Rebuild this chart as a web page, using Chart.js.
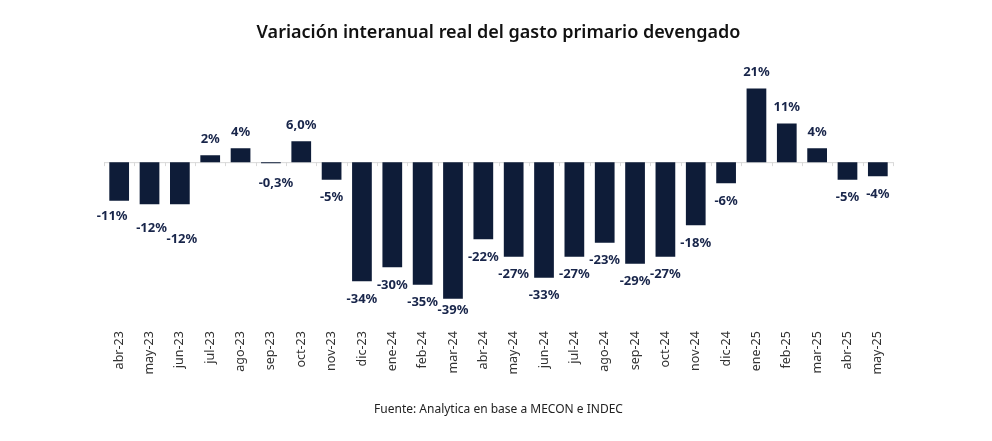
<!DOCTYPE html>
<html>
<head>
<meta charset="utf-8">
<script src="https://cdn.jsdelivr.net/npm/chart.js@4"></script>
<style>
  html, body { margin: 0; padding: 0; background: #fff; }
  #wrap { width: 992px; height: 441px; }
</style>
</head>
<body>
<div id="wrap"><canvas id="chartGasto"></canvas></div>
<script>
// DATA
var meses = ['abr-23', 'may-23', 'jun-23', 'jul-23', 'ago-23', 'sep-23', 'oct-23', 'nov-23',
    'dic-23', 'ene-24', 'feb-24', 'mar-24', 'abr-24', 'may-24', 'jun-24', 'jul-24', 'ago-24',
    'sep-24', 'oct-24', 'nov-24', 'dic-24', 'ene-25', 'feb-25', 'mar-25', 'abr-25', 'may-25'];
var variacion = [-11, -12, -12, 2, 4, -0.3, 6.0, -5, -34, -30, -35, -39, -22, -27, -33, -27,
    -23, -29, -27, -18, -6, 21, 11, 4, -5, -4];
var etiquetas = ['-11%', '-12%', '-12%', '2%', '4%', '-0,3%', '6,0%', '-5%', '-34%', '-30%', '-35%',
    '-39%', '-22%', '-27%', '-33%', '-27%', '-23%', '-29%', '-27%', '-18%', '-6%', '21%', '11%',
    '4%', '-5%', '-4%'];

// small manual nudges for labels that were moved to avoid overlaps [dx, dy]
var ajusteEtiqueta = { 0: [-7, -2], 1: [2, 6], 2: [2, 17], 5: [5, 2], 11: [0, -6] };

var fuente = "'Noto Sans', sans-serif";
var colorBarra = '#0e1c38';
var colorEtiqueta = '#18254a';

// zero line with short ticks at the category boundaries
var lineaCero = {
    id: 'lineaCero',
    beforeDatasetsDraw: function (chart) {
        var ctx = chart.ctx, x = chart.scales.x, y = chart.scales.y;
        var y0 = y.getPixelForValue(0);
        ctx.save();
        ctx.strokeStyle = '#d9d9d9';
        ctx.lineWidth = 1;
        ctx.beginPath();
        ctx.moveTo(chart.chartArea.left, y0 + 0.5);
        ctx.lineTo(chart.chartArea.right, y0 + 0.5);
        for (var i = 0; i <= meses.length; i++) {
            var px = Math.round(x.getPixelForValue(i - 0.5)) + 0.5;
            ctx.moveTo(px, y0);
            ctx.lineTo(px, y0 + 4);
        }
        ctx.stroke();
        ctx.restore();
    }
};

// value labels on each bar
var etiquetasBarras = {
    id: 'etiquetasBarras',
    afterDatasetsDraw: function (chart) {
        var ctx = chart.ctx;
        var meta = chart.getDatasetMeta(0);
        ctx.save();
        ctx.font = "700 13px " + fuente;
        ctx.fillStyle = colorEtiqueta;
        ctx.textAlign = 'center';
        ctx.textBaseline = 'middle';
        meta.data.forEach(function (bar, i) {
            var v = variacion[i];
            var aj = ajusteEtiqueta[i] || [0, 0];
            var yy = v < 0 ? bar.y + 18 : bar.y - 16;
            ctx.fillText(etiquetas[i], bar.x + aj[0], yy + aj[1]);
        });
        ctx.restore();
    }
};

new Chart(document.getElementById('chartGasto'), {
    type: 'bar',
    data: {
        labels: meses,
        datasets: [{
            label: 'Variación interanual',
            data: variacion,
            backgroundColor: colorBarra,
            categoryPercentage: 1,
            barPercentage: 0.65
        }]
    },
    options: {
        responsive: true,
        maintainAspectRatio: false,
        animation: false,
        layout: {
            padding: { left: 104, right: 99, top: 0, bottom: 0 }
        },
        plugins: {
            legend: { display: false },
            tooltip: { enabled: false },
            title: {
                display: true,
                text: 'Variación interanual real del gasto primario devengado',
                color: '#111111',
                font: { family: fuente, size: 18, weight: '600' },
                padding: { top: 22, bottom: 31 }
            },
            subtitle: {
                display: true,
                position: 'bottom',
                text: 'Fuente: Analytica en base a MECON e INDEC',
                color: '#222222',
                font: { family: fuente, size: 12 },
                padding: { top: 20, bottom: 24 }
            }
        },
        scales: {
            x: {
                grid: { display: false, drawTicks: false },
                border: { display: false },
                ticks: {
                    color: '#333333',
                    font: { family: fuente, size: 12.5 },
                    minRotation: 90,
                    maxRotation: 90,
                    padding: 8,
                    autoSkip: false
                }
            },
            y: {
                min: -46,
                max: 25,
                display: false
            }
        }
    },
    plugins: [lineaCero, etiquetasBarras]
});
</script>
</body>
</html>
